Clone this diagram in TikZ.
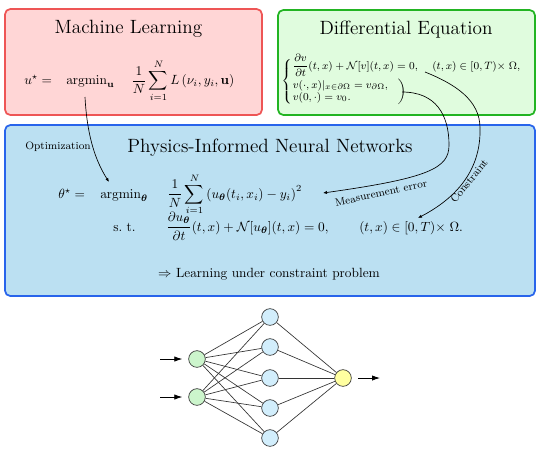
\documentclass[tikz,border=0pt]{standalone}
\usepackage{amsmath,amssymb}
\usetikzlibrary{arrows.meta}
\definecolor{mlfill}{RGB}{255,214,214}
\definecolor{mldraw}{RGB}{238,85,85}
\definecolor{defill}{RGB}{224,252,222}
\definecolor{dedraw}{RGB}{34,180,34}
\definecolor{pifill}{RGB}{187,224,242}
\definecolor{pidraw}{RGB}{40,100,235}
\definecolor{inc}{RGB}{204,245,204}
\definecolor{hidc}{RGB}{210,238,252}
\definecolor{outc}{RGB}{255,255,160}
\newcommand{\delimof}[3]{$\delimiterfactor=1000\delimitershortfall=0pt\nulldelimiterspace=0pt\left#1\vcenter{\hbox{\rule{0pt}{#3}}}\right#2$}
\begin{document}
\begin{tikzpicture}[x=0.75pt,y=-0.75pt,
  box/.style={rounded corners=4pt, line width=1.3pt},
  ttl/.style={font=\Large, anchor=base, inner sep=0},
  eq/.style={anchor=base west, inner sep=0},
  smalleq/.style={anchor=base west, inner sep=0, font=\footnotesize},
  lbl/.style={font=\footnotesize, inner sep=0},
  neuron/.style={circle, draw=black!80, line width=0.5pt, minimum size=12.5pt, inner sep=0},
  syn/.style={draw=black!80, line width=0.5pt},
  curvearrow/.style={-{Latex[length=3pt,width=2.4pt]}, line width=0.5pt},
  ioarrow/.style={-{Latex[length=6pt,width=4pt]}, line width=0.6pt}]
\useasboundingbox (0,0) rectangle (541,455);
% boxes
\draw[box, fill=mlfill, draw=mldraw] (5,9) rectangle (262,115);
\draw[box, fill=defill, draw=dedraw] (278,10) rectangle (535,115);
\draw[box, fill=pifill, draw=pidraw] (5,125) rectangle (535,296);
% titles
\node[ttl] (mlt) at (128.5,33.5) {Machine Learning};
\node[ttl] (det) at (406,34) {Differential Equation};
\node[ttl] (pit) at (270,152) {Physics-Informed Neural Networks};
% machine learning equation
\node[eq] (mla) at (24,84.5) {$u^\star =$};
\node[eq] (mlb) at (66,84.5) {$\mathrm{argmin}_{\mathbf{u}}$};
\node[eq] (mlc) at (131,84.5) {$\displaystyle\frac{1}{N}\sum_{i=1}^{N} L\left(\nu_i, y_i, \mathbf{u}\right)$};
% differential equation system
\node[anchor=east, inner sep=0, font=\footnotesize] (brace) at (292,81.5) {\delimof{\{}{.}{30pt}};
\node[smalleq] (r1) at (292.5,69) {$\dfrac{\partial v}{\partial t}(t,x)+\mathcal{N}[v](t,x)=0,$};
\node[smalleq] (r1b) at (432,69) {$(t,x)\in[0,T){\times}\;\Omega,$};
\node[smalleq] (r2) at (292.5,88) {$v(\cdot,x)|_{x\in\partial\Omega}=v_{\partial\Omega},$};
\node[smalleq] (r3) at (292.5,100) {$v(0,\cdot)=v_0.$};
\node[anchor=west, inner sep=0, font=\footnotesize] (paren) at (397.5,92) {\delimof{.}{)}{15pt}};
% PINN equations
\node[eq] (pa) at (58,198) {$\theta^\star =$};
\node[eq] (pb) at (100,198) {$\mathrm{argmin}_{\boldsymbol{\theta}}$};
\node[eq] (pc) at (167,198) {$\displaystyle\frac{1}{N}\sum_{i=1}^{N}\left(u_{\boldsymbol{\theta}}(t_i,x_i)-y_i\right)^2$};
\node[eq] (pd) at (113,231) {s.\ t.};
\node[eq] (pe) at (166,231) {$\displaystyle\frac{\partial u_{\boldsymbol{\theta}}}{\partial t}(t,x)+\mathcal{N}[u_{\boldsymbol{\theta}}](t,x)=0,$};
\node[eq] (pf) at (359,231) {$(t,x)\in[0,T){\times}\;\Omega.$};
\node[anchor=base, inner sep=0] (pg) at (269,277) {$\Rightarrow$ Learning under constraint problem};
% labels
\node[lbl] (lopt) at (58,147) {Optimization};
\node[lbl, rotate=12] (lmeas) at (381,193) {Measurement error};
\node[lbl, rotate=51] (lcons) at (469,181) {Constraint};
% curve endpoints
\coordinate (ostart) at (85,97);
\coordinate (oend) at (109,182);
\coordinate (mstart) at (402,92);
\coordinate (mend) at (323,193);
\coordinate (cstart) at (425,72);
\coordinate (cend) at (418,218);
\draw[curvearrow] (ostart) .. controls (87,135) and (95,160) .. (oend);
\draw[curvearrow] (mstart) .. controls (436,92) and (449,115) .. (449,145)
  .. controls (449,168) and (430,178) .. (mend);
\draw[curvearrow] (cstart) .. controls (455,84) and (480,100) .. (480,128)
  .. controls (481,165) and (462,195) .. (cend);
% neural network
\node[neuron, fill=inc] (i1) at (197,359) {};
\node[neuron, fill=inc] (i2) at (197,397) {};
\node[neuron, fill=hidc] (h1) at (270,317) {};
\node[neuron, fill=hidc] (h2) at (270,347) {};
\node[neuron, fill=hidc] (h3) at (270,378) {};
\node[neuron, fill=hidc] (h4) at (270,408) {};
\node[neuron, fill=hidc] (h5) at (270,438) {};
\node[neuron, fill=outc] (o) at (343,378) {};
\foreach \i in {i1,i2}{\foreach \h in {h1,h2,h3,h4,h5}{\draw[syn] (\i) -- (\h);}}
\foreach \h in {h1,h2,h3,h4,h5}{\draw[syn] (\h) -- (o);}
\coordinate (a1) at (160,359);
\coordinate (a2) at (160,397);
\coordinate (ao) at (380,378);
\draw[ioarrow, shorten >=4.5pt] (a1) -- (i1);
\draw[ioarrow, shorten >=4.5pt] (a2) -- (i2);
\draw[ioarrow, shorten <=5pt] (o) -- (ao);
\end{tikzpicture}
\end{document}
